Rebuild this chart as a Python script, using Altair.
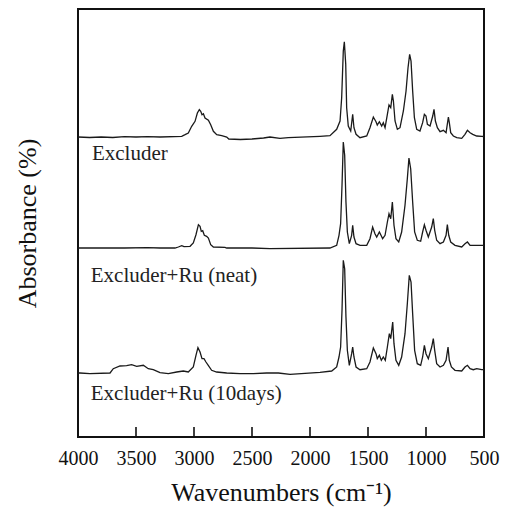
import altair as alt
import pandas as pd

# ---------------- data ----------------
tick_values = [4000, 3500, 3000, 2500, 2000, 1500, 1000, 500]
inner_ticks = [3500, 3000, 2500, 2000, 1500, 1000]
names = ["Excluder", "Excluder+Ru (neat)", "Excluder+Ru (10days)"]

# Spectrum 1: Excluder
wn_1 = [4000, 3900, 3800, 3700, 3600, 3500, 3400, 3293, 3106, 3077, 3049, 3020, 2991,
        2971, 2954, 2942, 2931, 2919, 2905, 2876, 2856, 2833, 2804, 2761, 2718, 2700,
        2600, 2500, 2400, 2345, 2259, 2187, 1914, 1828, 1770, 1741, 1727, 1713, 1704,
        1692, 1684, 1670, 1649, 1632, 1621, 1603, 1569, 1511, 1483, 1454, 1431, 1420,
        1402, 1382, 1368, 1353, 1333, 1319, 1304, 1290, 1281, 1267, 1247, 1224, 1195,
        1172, 1155, 1141, 1129, 1115, 1100, 1080, 1052, 1029, 1014, 1000, 988, 965,
        942, 931, 919, 902, 879, 850, 827, 807, 799, 787, 764, 735, 692, 664, 643,
        620, 597, 563, 520, 500]
abs_1 = [0.0, -0.005, 0.0, -0.005, 0.003, 0.0, 0.003, 0.0, 0.007, 0.023, 0.04, 0.107, 0.157,
         0.24, 0.273, 0.257, 0.223, 0.233, 0.19, 0.167, 0.123, 0.057, 0.023, 0.013, 0.0, -0.02,
         -0.025, -0.02, -0.01, 0.0, -0.013, -0.007, 0.007, 0.013, 0.077, 0.16, 0.393, 0.86, 0.953,
         0.727, 0.293, 0.11, 0.06, 0.227, 0.093, 0.027, -0.007, 0.01, 0.093, 0.2, 0.153, 0.12,
         0.153, 0.11, 0.143, 0.093, 0.227, 0.32, 0.293, 0.427, 0.36, 0.16, 0.077, 0.093, 0.26,
         0.46, 0.693, 0.827, 0.76, 0.46, 0.193, 0.077, 0.06, 0.143, 0.227, 0.21, 0.127, 0.11,
         0.21, 0.277, 0.16, 0.093, 0.053, 0.067, 0.043, 0.2, 0.143, 0.043, 0.01, -0.007, -0.013, 0.027, 0.067,
         0.043, 0.027, 0.01, 0.007, 0.005]

# Spectrum 2: Excluder+Ru (neat)
wn_2 = [4000, 3800, 3600, 3400, 3293, 3164, 3135, 3106, 3086, 3034, 3006, 2983, 2962,
        2948, 2937, 2925, 2911, 2891, 2876, 2856, 2833, 2733, 2718, 2500, 2345, 1828,
        1770, 1750, 1736, 1724, 1713, 1701, 1690, 1678, 1661, 1641, 1632, 1621, 1603,
        1569, 1511, 1483, 1460, 1440, 1425, 1402, 1388, 1374, 1353, 1333, 1319, 1304,
        1290, 1276, 1259, 1235, 1210, 1181, 1161, 1147, 1132, 1115, 1098, 1075, 1046,
        1029, 1014, 1000, 980, 951, 937, 925, 908, 879, 850, 827, 816, 804, 787, 750,
        692, 664, 643, 620, 577, 520, 500]
abs_2 = [0.0, 0.0, 0.0, 0.003, 0.0, 0.0, 0.01, 0.023, 0.013, 0.017, 0.05, 0.133, 0.233,
         0.217, 0.167, 0.173, 0.127, 0.117, 0.1, 0.033, 0.01, 0.007, 0.0, 0.0, -0.007, 0.0,
         0.027, 0.127, 0.243, 0.627, 1.06, 0.927, 0.46, 0.16, 0.043, 0.127, 0.227, 0.11, 0.043,
         0.027, 0.027, 0.093, 0.21, 0.143, 0.11, 0.16, 0.127, 0.093, 0.127, 0.26, 0.343, 0.293,
         0.46, 0.227, 0.093, 0.06, 0.16, 0.427, 0.693, 0.9, 0.793, 0.46, 0.16, 0.077, 0.067,
         0.16, 0.233, 0.177, 0.11, 0.21, 0.293, 0.177, 0.077, 0.043, 0.06, 0.127, 0.233, 0.127, 0.06, 0.027,
         0.01, 0.043, 0.06, 0.027, 0.027, 0.027, 0.027]

# Spectrum 3: Excluder+Ru (10days)
wn_3 = [4000, 3983, 3897, 3724, 3696, 3638, 3581, 3538, 3494, 3437, 3394, 3351, 3293,
        3221, 3149, 3092, 3049, 3006, 2983, 2966, 2948, 2931, 2914, 2897, 2877, 2848,
        2805, 2718, 2603, 2488, 2374, 2273, 2172, 1914, 1813, 1770, 1750, 1736, 1724,
        1713, 1701, 1690, 1678, 1661, 1641, 1632, 1621, 1603, 1569, 1511, 1483, 1454,
        1431, 1420, 1402, 1385, 1368, 1351, 1333, 1316, 1304, 1287, 1276, 1259, 1235,
        1210, 1181, 1161, 1144, 1129, 1115, 1098, 1075, 1046, 1029, 1014, 1000, 980,
        951, 937, 925, 908, 879, 850, 827, 810, 799, 781, 750, 692, 664, 643, 620, 592,
        563, 520, 500]
abs_3 = [0.0, 0.0, -0.007, 0.0, 0.043, 0.07, 0.073, 0.083, 0.067, 0.077, 0.043, 0.033, 0.003,
         -0.007, 0.01, 0.02, 0.01, 0.06, 0.177, 0.253, 0.21, 0.143, 0.143, 0.11, 0.077, 0.027,
         0.01, 0.0, -0.007, -0.007, 0.0, 0.0, -0.013, 0.007, 0.02, 0.06, 0.16, 0.26, 0.627,
         1.127, 1.043, 0.56, 0.227, 0.077, 0.193, 0.26, 0.16, 0.06, 0.033, 0.043, 0.11, 0.25,
         0.193, 0.143, 0.177, 0.127, 0.16, 0.127, 0.26, 0.393, 0.343, 0.51, 0.293, 0.127, 0.077,
         0.16, 0.393, 0.693, 0.977, 0.91, 0.593, 0.227, 0.093, 0.077, 0.16, 0.277, 0.193, 0.143,
         0.26, 0.343, 0.227, 0.093, 0.06, 0.077, 0.127, 0.26, 0.127, 0.06, 0.027, 0.02, 0.06, 0.077, 0.043, 0.033,
         0.043, 0.033, 0.033]

# vertical stacking offsets of the three traces
offsets = [3.0, 1.89, 0.64]

# label anchors (wavenumber, stacked absorbance)
label_wn = [3880, 3890, 3890]
label_y = [2.77, 1.553, 0.37]

# ---------------- build tables ----------------
rows = []
for name, wns, vals, off in zip(names, [wn_1, wn_2, wn_3], [abs_1, abs_2, abs_3], offsets):
    for w, a in zip(wns, vals):
        rows.append({"series": name, "wn": w, "absorb": a + off})
df = pd.DataFrame(rows)
labels_df = pd.DataFrame({"label": names, "wn": label_wn, "y": label_y})
ticks_df = pd.DataFrame({"wn": inner_ticks})

FONT = "Liberation Serif"
x_scale = alt.Scale(domain=[500, 4000], reverse=True, nice=False, zero=False)
y_scale = alt.Scale(domain=[0, 4.28], nice=False, zero=False)

x_axis = alt.Axis(values=tick_values, format="d", title="Wavenumbers (cm⁻¹)",
                  ticks=False, domain=False, grid=False, labelFlush=False,
                  labelPadding=11, titlePadding=11, labelFontSize=20, titleFontSize=26,
                  labelFont=FONT, titleFont=FONT, labelColor="#111", titleColor="#111",
                  titleFontWeight="normal")
y_axis = alt.Axis(title="Absorbance (%)", labels=False, ticks=False, domain=False,
                  grid=False, titlePadding=38, titleFontSize=26, titleFont=FONT,
                  titleColor="#111", titleFontWeight="normal")

lines = alt.Chart(df).mark_line(color="#1a1a1a", strokeWidth=1.3).encode(
    x=alt.X("wn:Q", scale=x_scale, axis=x_axis),
    y=alt.Y("absorb:Q", scale=y_scale, axis=y_axis),
    detail="series:N",
)

texts = alt.Chart(labels_df).mark_text(align="left", baseline="alphabetic", font=FONT,
                                       fontSize=21, color="#222").encode(
    x=alt.X("wn:Q", scale=x_scale),
    y=alt.Y("y:Q", scale=y_scale),
    text="label:N",
)

tick_marks = alt.Chart(ticks_df).mark_rule(color="#111", strokeWidth=1.6).encode(
    x=alt.X("wn:Q", scale=x_scale),
    y=alt.value(428),
    y2=alt.value(418),
)

chart = alt.layer(lines, texts, tick_marks).properties(
    width=406, height=428,
    background="white",
    autosize=alt.AutoSizeParams(type="none"),
    padding={"left": 78, "top": 9, "right": 23, "bottom": 74},
).configure_view(stroke="#111", strokeWidth=2)

chart.save("out.html", embed_options={"renderer": "svg", "actions": False})
